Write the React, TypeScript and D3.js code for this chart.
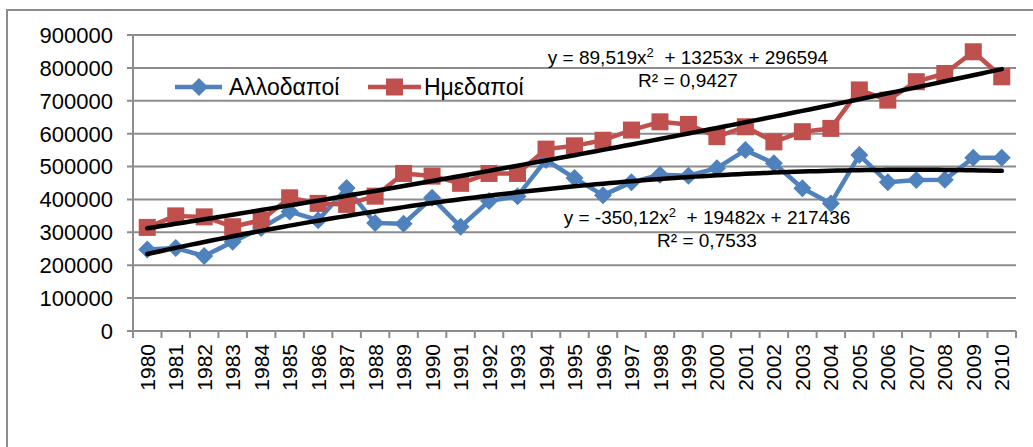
import React from "react";
import * as d3 from "d3";

// categories
const years = [
  "1980", "1981", "1982", "1983", "1984", "1985", "1986", "1987", "1988", "1989",
  "1990", "1991", "1992", "1993", "1994", "1995", "1996", "1997", "1998", "1999",
  "2000", "2001", "2002", "2003", "2004", "2005", "2006", "2007", "2008", "2009", "2010",
];

// Αλλοδαποί (foreigners)
const foreign = [
  248000, 252000, 228000, 271000, 313000, 363000, 337000, 435000, 328000, 326000,
  405000, 317000, 395000, 410000, 520000, 465000, 413000, 452000, 475000, 472000,
  495000, 550000, 510000, 434000, 388000, 535000, 452000, 459000, 460000, 527000, 527000,
];

// Ημεδαποί (natives)
const native = [
  315000, 350000, 347000, 317000, 337000, 405000, 388000, 385000, 410000, 479000,
  471000, 449000, 479000, 479000, 553000, 563000, 580000, 611000, 636000, 628000,
  591000, 621000, 575000, 606000, 616000, 733000, 702000, 758000, 783000, 849000, 773000,
];

const yTicks = [0, 100000, 200000, 300000, 400000, 500000, 600000, 700000, 800000, 900000];

const seriesNames = ["Αλλοδαποί", "Ημεδαποί"];
const trendLabels = [
  { eq: ["y = -350,12x", "\u00a0 + 19482x + 217436"], r2: "R² = 0,7533" },
  { eq: ["y = 89,519x", "\u00a0 + 13253x + 296594"], r2: "R² = 0,9427" },
];

const BLUE = "#4F81BD";
const RED = "#C0504D";
const GRID = "#8C8C8C";
const FONT = "'Liberation Sans', Arial, sans-serif";

// least squares quadratic fit, x = 1..n (like Excel's polynomial trendline)
function quadFit(vals: number[]) {
  let s = [0, 0, 0, 0, 0];
  let t = [0, 0, 0];
  vals.forEach((v, i) => {
    const x = i + 1;
    for (let k = 0; k < 5; k++) s[k] += Math.pow(x, k);
    for (let k = 0; k < 3; k++) t[k] += v * Math.pow(x, k);
  });
  // solve [[s0 s1 s2][s1 s2 s3][s2 s3 s4]] [c0 c1 c2] = t
  const m = [
    [s[0], s[1], s[2], t[0]],
    [s[1], s[2], s[3], t[1]],
    [s[2], s[3], s[4], t[2]],
  ];
  for (let i = 0; i < 3; i++) {
    for (let j = i + 1; j < 3; j++) {
      const f = m[j][i] / m[i][i];
      for (let k = i; k < 4; k++) m[j][k] -= f * m[i][k];
    }
  }
  const c = [0, 0, 0];
  for (let i = 2; i >= 0; i--) {
    let acc = m[i][3];
    for (let k = i + 1; k < 3; k++) acc -= m[i][k] * c[k];
    c[i] = acc / m[i][i];
  }
  return (x: number) => c[0] + c[1] * x + c[2] * x * x;
}

export default function App() {
  const width = 1033;
  const height = 447;
  const plot = { left: 133, right: 1016, top: 35, bottom: 331 };

  const x = d3.scaleBand<string>().domain(years).range([plot.left, plot.right]);
  const cx = (yr: string) => (x(yr) as number) + x.bandwidth() / 2;
  const y = d3.scaleLinear().domain([0, 900000]).range([plot.bottom, plot.top]);

  const line = d3
    .line<number>()
    .x((_, i) => cx(years[i]))
    .y((d) => y(d));

  // trend curves sampled between first and last category
  const xCont = d3.scaleLinear().domain([1, years.length]).range([cx(years[0]), cx(years[years.length - 1])]);
  const samples = d3.range(1, years.length + 0.001, 0.25);
  const trendPath = (vals: number[]) => {
    const f = quadFit(vals);
    return d3
      .line<number>()
      .x((t) => xCont(t))
      .y((t) => y(f(t)))(samples) as string;
  };

  const diamond = (px: number, py: number, r = 9) =>
    `M${px},${py - r}L${px + r},${py}L${px},${py + r}L${px - r},${py}Z`;

  const boundaries = d3.range(years.length + 1).map((i) => plot.left + i * x.step());

  return (
    <svg
      width={width}
      height={height}
      style={{ position: "absolute", left: 0, top: 0, background: "#fff" }}
      fontFamily={FONT}
    >
      {/* chart frame */}
      <path d={`M7,${height}V10H${width}`} fill="none" stroke={GRID} strokeWidth={2} />

      {/* gridlines + y labels */}
      {yTicks.map((t) => (
        <g key={t}>
          <line x1={plot.left - 6} x2={plot.right} y1={y(t)} y2={y(t)} stroke={GRID} strokeWidth={2} />
          <text x={113} y={y(t)} dy="0.36em" textAnchor="end" fontSize={22} fill="#000">
            {t}
          </text>
        </g>
      ))}

      {/* axes */}
      <line x1={plot.left} x2={plot.left} y1={plot.top} y2={plot.bottom} stroke={GRID} strokeWidth={2} />
      <line x1={plot.left} x2={plot.right} y1={plot.bottom} y2={plot.bottom} stroke={GRID} strokeWidth={2} />
      {boundaries.map((bx, i) => (
        <line key={i} x1={bx} x2={bx} y1={plot.bottom} y2={plot.bottom + 7} stroke={GRID} strokeWidth={2} />
      ))}
      {years.map((yr) => (
        <text
          key={yr}
          transform={`translate(${cx(yr)},${plot.bottom + 13}) rotate(-90)`}
          textAnchor="end"
          dy="0.36em"
          fontSize={21}
          fill="#000"
        >
          {yr}
        </text>
      ))}

      {/* series */}
      <path d={line(foreign) as string} fill="none" stroke={BLUE} strokeWidth={4.5} strokeLinejoin="round" />
      {foreign.map((v, i) => (
        <path key={i} d={diamond(cx(years[i]), y(v))} fill={BLUE} />
      ))}
      <path d={line(native) as string} fill="none" stroke={RED} strokeWidth={4.5} strokeLinejoin="round" />
      {native.map((v, i) => (
        <rect key={i} x={cx(years[i]) - 8.5} y={y(v) - 8.5} width={17} height={17} fill={RED} />
      ))}

      {/* trend lines */}
      <path d={trendPath(foreign)} fill="none" stroke="#000" strokeWidth={4.5} strokeLinecap="round" />
      <path d={trendPath(native)} fill="none" stroke="#000" strokeWidth={4.5} strokeLinecap="round" />

      {/* trend labels */}
      <g fontSize={19} fill="#000" textAnchor="middle">
        <text x={688} y={64}>
          {trendLabels[1].eq[0]}
          <tspan dy={-7} fontSize={13}>2</tspan>
          <tspan dy={7}>{trendLabels[1].eq[1]}</tspan>
        </text>
        <text x={688} y={87}>{trendLabels[1].r2}</text>
        <text x={707} y={224}>
          {trendLabels[0].eq[0]}
          <tspan dy={-7} fontSize={13}>2</tspan>
          <tspan dy={7}>{trendLabels[0].eq[1]}</tspan>
        </text>
        <text x={707} y={247}>{trendLabels[0].r2}</text>
      </g>

      {/* legend */}
      <g>
        <line x1={175} x2={222} y1={87} y2={87} stroke={BLUE} strokeWidth={4.5} />
        <path d={diamond(199, 87)} fill={BLUE} />
        <text x={229} y={87} dy="0.36em" fontSize={23} fill="#000">
          {seriesNames[0]}
        </text>
        <line x1={368} x2={421} y1={87} y2={87} stroke={RED} strokeWidth={4.5} />
        <rect x={386} y={78.5} width={17} height={17} fill={RED} />
        <text x={424} y={87} dy="0.36em" fontSize={23} fill="#000">
          {seriesNames[1]}
        </text>
      </g>
    </svg>
  );
}
